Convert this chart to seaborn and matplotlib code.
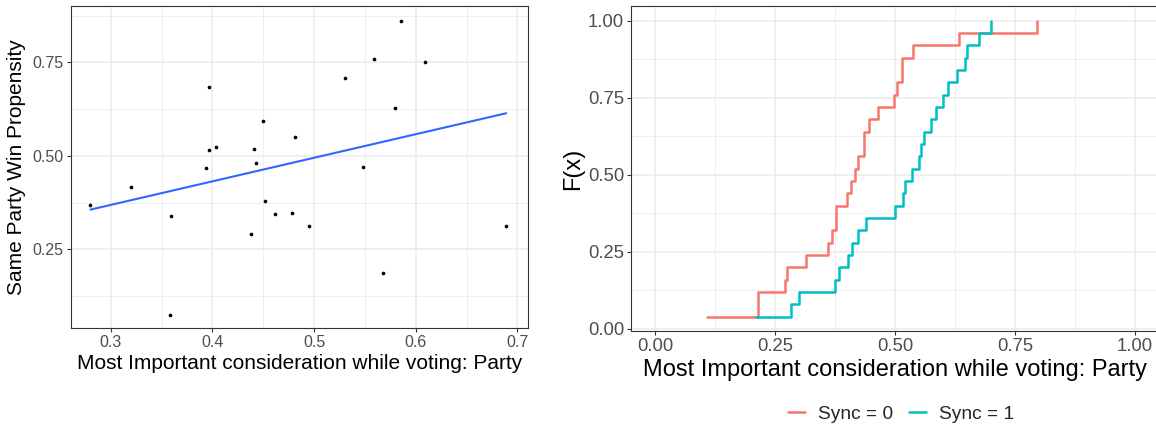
import numpy as np
import pandas as pd
import matplotlib
matplotlib.use("Agg")
import matplotlib.pyplot as plt
from matplotlib.ticker import FixedLocator, FixedFormatter
from matplotlib.lines import Line2D
import seaborn as sns

# ---------------- data ----------------
party_share = [0.280, 0.320, 0.359, 0.358, 0.394, 0.397, 0.397, 0.404, 0.438,
               0.441, 0.443, 0.450, 0.452, 0.462, 0.478, 0.481, 0.495, 0.530,
               0.548, 0.559, 0.568, 0.580, 0.586, 0.609, 0.689]
win_propensity = [0.369, 0.416, 0.338, 0.073, 0.467, 0.515, 0.684, 0.523, 0.290,
                  0.518, 0.480, 0.593, 0.379, 0.344, 0.347, 0.550, 0.312, 0.708,
                  0.470, 0.759, 0.186, 0.628, 0.861, 0.751, 0.312]

sync0_party = [0.109, 0.215, 0.215, 0.271, 0.276, 0.315, 0.360, 0.368, 0.377,
               0.377, 0.400, 0.409, 0.416, 0.423, 0.435, 0.435, 0.446, 0.465,
               0.497, 0.505, 0.515, 0.515, 0.537, 0.633, 0.795]
sync1_party = [0.210, 0.283, 0.301, 0.376, 0.384, 0.402, 0.410, 0.423, 0.439,
               0.500, 0.516, 0.520, 0.536, 0.551, 0.554, 0.560, 0.575, 0.585,
               0.599, 0.610, 0.629, 0.645, 0.649, 0.674, 0.699]

sync_labels = ["Sync = 0", "Sync = 1"]
sync_colors = ["#F8766D", "#00BFC4"]

x_title = "Most Important consideration while voting: Party"
left_y_title = "Same Party Win Propensity"
right_y_title = "F(x)"

left_xticks = [0.3, 0.4, 0.5, 0.6, 0.7]
left_xtick_labels = ["0.3", "0.4", "0.5", "0.6", "0.7"]
left_yticks = [0.25, 0.50, 0.75]
left_ytick_labels = ["0.25", "0.50", "0.75"]
right_ticks = [0.00, 0.25, 0.50, 0.75, 1.00]
right_tick_labels = ["0.00", "0.25", "0.50", "0.75", "1.00"]

# ---------------- style ----------------
sns.set_theme(style="white")
plt.rcParams["font.family"] = ["Liberation Sans", "DejaVu Sans"]

W, H = 1156, 429
fig = plt.figure(figsize=(W / 100, H / 100), dpi=100)
ax1 = fig.add_axes([70.7 / W, 1 - 328.3 / H, 457.6 / W, 322.6 / H])
ax2 = fig.add_axes([631 / W, 1 - 331.3 / H, 528 / W, 325.3 / H])


def mids(vals, step):
    out = [vals[0] - step / 2] + [v + step / 2 for v in vals]
    return out


def style_axes(ax, xt, xtl, yt, ytl, xlim, ylim, tick_fs, xstep, ystep):
    ax.set_xlim(xlim)
    ax.set_ylim(ylim)
    ax.xaxis.set_major_locator(FixedLocator(xt))
    ax.xaxis.set_major_formatter(FixedFormatter(xtl))
    ax.yaxis.set_major_locator(FixedLocator(yt))
    ax.yaxis.set_major_formatter(FixedFormatter(ytl))
    ax.xaxis.set_minor_locator(FixedLocator(mids(xt, xstep)))
    ax.yaxis.set_minor_locator(FixedLocator(mids(yt, ystep)))
    ax.grid(which="major", color="#EBEBEB", lw=1.1)
    ax.grid(which="minor", color="#EBEBEB", lw=0.55)
    ax.set_axisbelow(True)
    for s in ax.spines.values():
        s.set_visible(True)
        s.set_color("#333333")
        s.set_linewidth(0.8)
    ax.tick_params(which="major", bottom=True, left=True, length=3, width=0.8,
                   color="#333333", labelcolor="#4D4D4D", labelsize=tick_fs, pad=2)
    ax.tick_params(which="minor", length=0)
    ax.set_facecolor("white")


# ---------------- left: scatter + lm ----------------
scatter_df = pd.DataFrame({"party": party_share, "win": win_propensity})
sns.scatterplot(data=scatter_df, x="party", y="win", ax=ax1, color="black",
                s=7, linewidth=0, zorder=3)
sns.regplot(data=scatter_df, x="party", y="win", ax=ax1, scatter=False,
            ci=None, truncate=True, line_kws=dict(color="#3366FF", lw=1.5))
style_axes(ax1, left_xticks, left_xtick_labels, left_yticks, left_ytick_labels,
           (0.2606, 0.7108), (0.0385, 0.9015), 11.5, 0.1, 0.25)
ax1.set_xlabel(x_title, fontsize=15, color="black", labelpad=3)
ax1.set_ylabel(left_y_title, fontsize=15, color="black", labelpad=5)

# ---------------- right: ECDF steps ----------------
frames = []
for lab, vals in zip(sync_labels, [sync0_party, sync1_party]):
    v = np.sort(np.asarray(vals))
    F = np.arange(1, len(v) + 1) / len(v)
    frames.append(pd.DataFrame({"x": v, "F": F, "Sync": lab}))
ecdf_df = pd.concat(frames, ignore_index=True)

sns.lineplot(data=ecdf_df, x="x", y="F", hue="Sync", hue_order=sync_labels,
             palette=sync_colors, estimator=None, sort=False,
             drawstyle="steps-post", lw=1.8, ax=ax2, legend=False)
style_axes(ax2, right_ticks, right_tick_labels, right_ticks, right_tick_labels,
           (-0.05, 1.05), (-0.008, 1.048), 13.3, 0.25, 0.25)
ax2.spines["right"].set_visible(False)
ax2.set_xlabel(x_title, fontsize=17, color="black", labelpad=3)
ax2.set_ylabel(right_y_title, fontsize=17, color="black", labelpad=3)

handles = [Line2D([0], [0], color=c, lw=1.8) for c in sync_colors]
fig.legend(handles, sync_labels, loc="center", ncol=2,
           bbox_to_anchor=(901 / W, 1 - 414 / H), frameon=False,
           fontsize=13.8, handlelength=0.9, handletextpad=0.7,
           columnspacing=0.8)

fig.savefig("out.png", dpi=100)
